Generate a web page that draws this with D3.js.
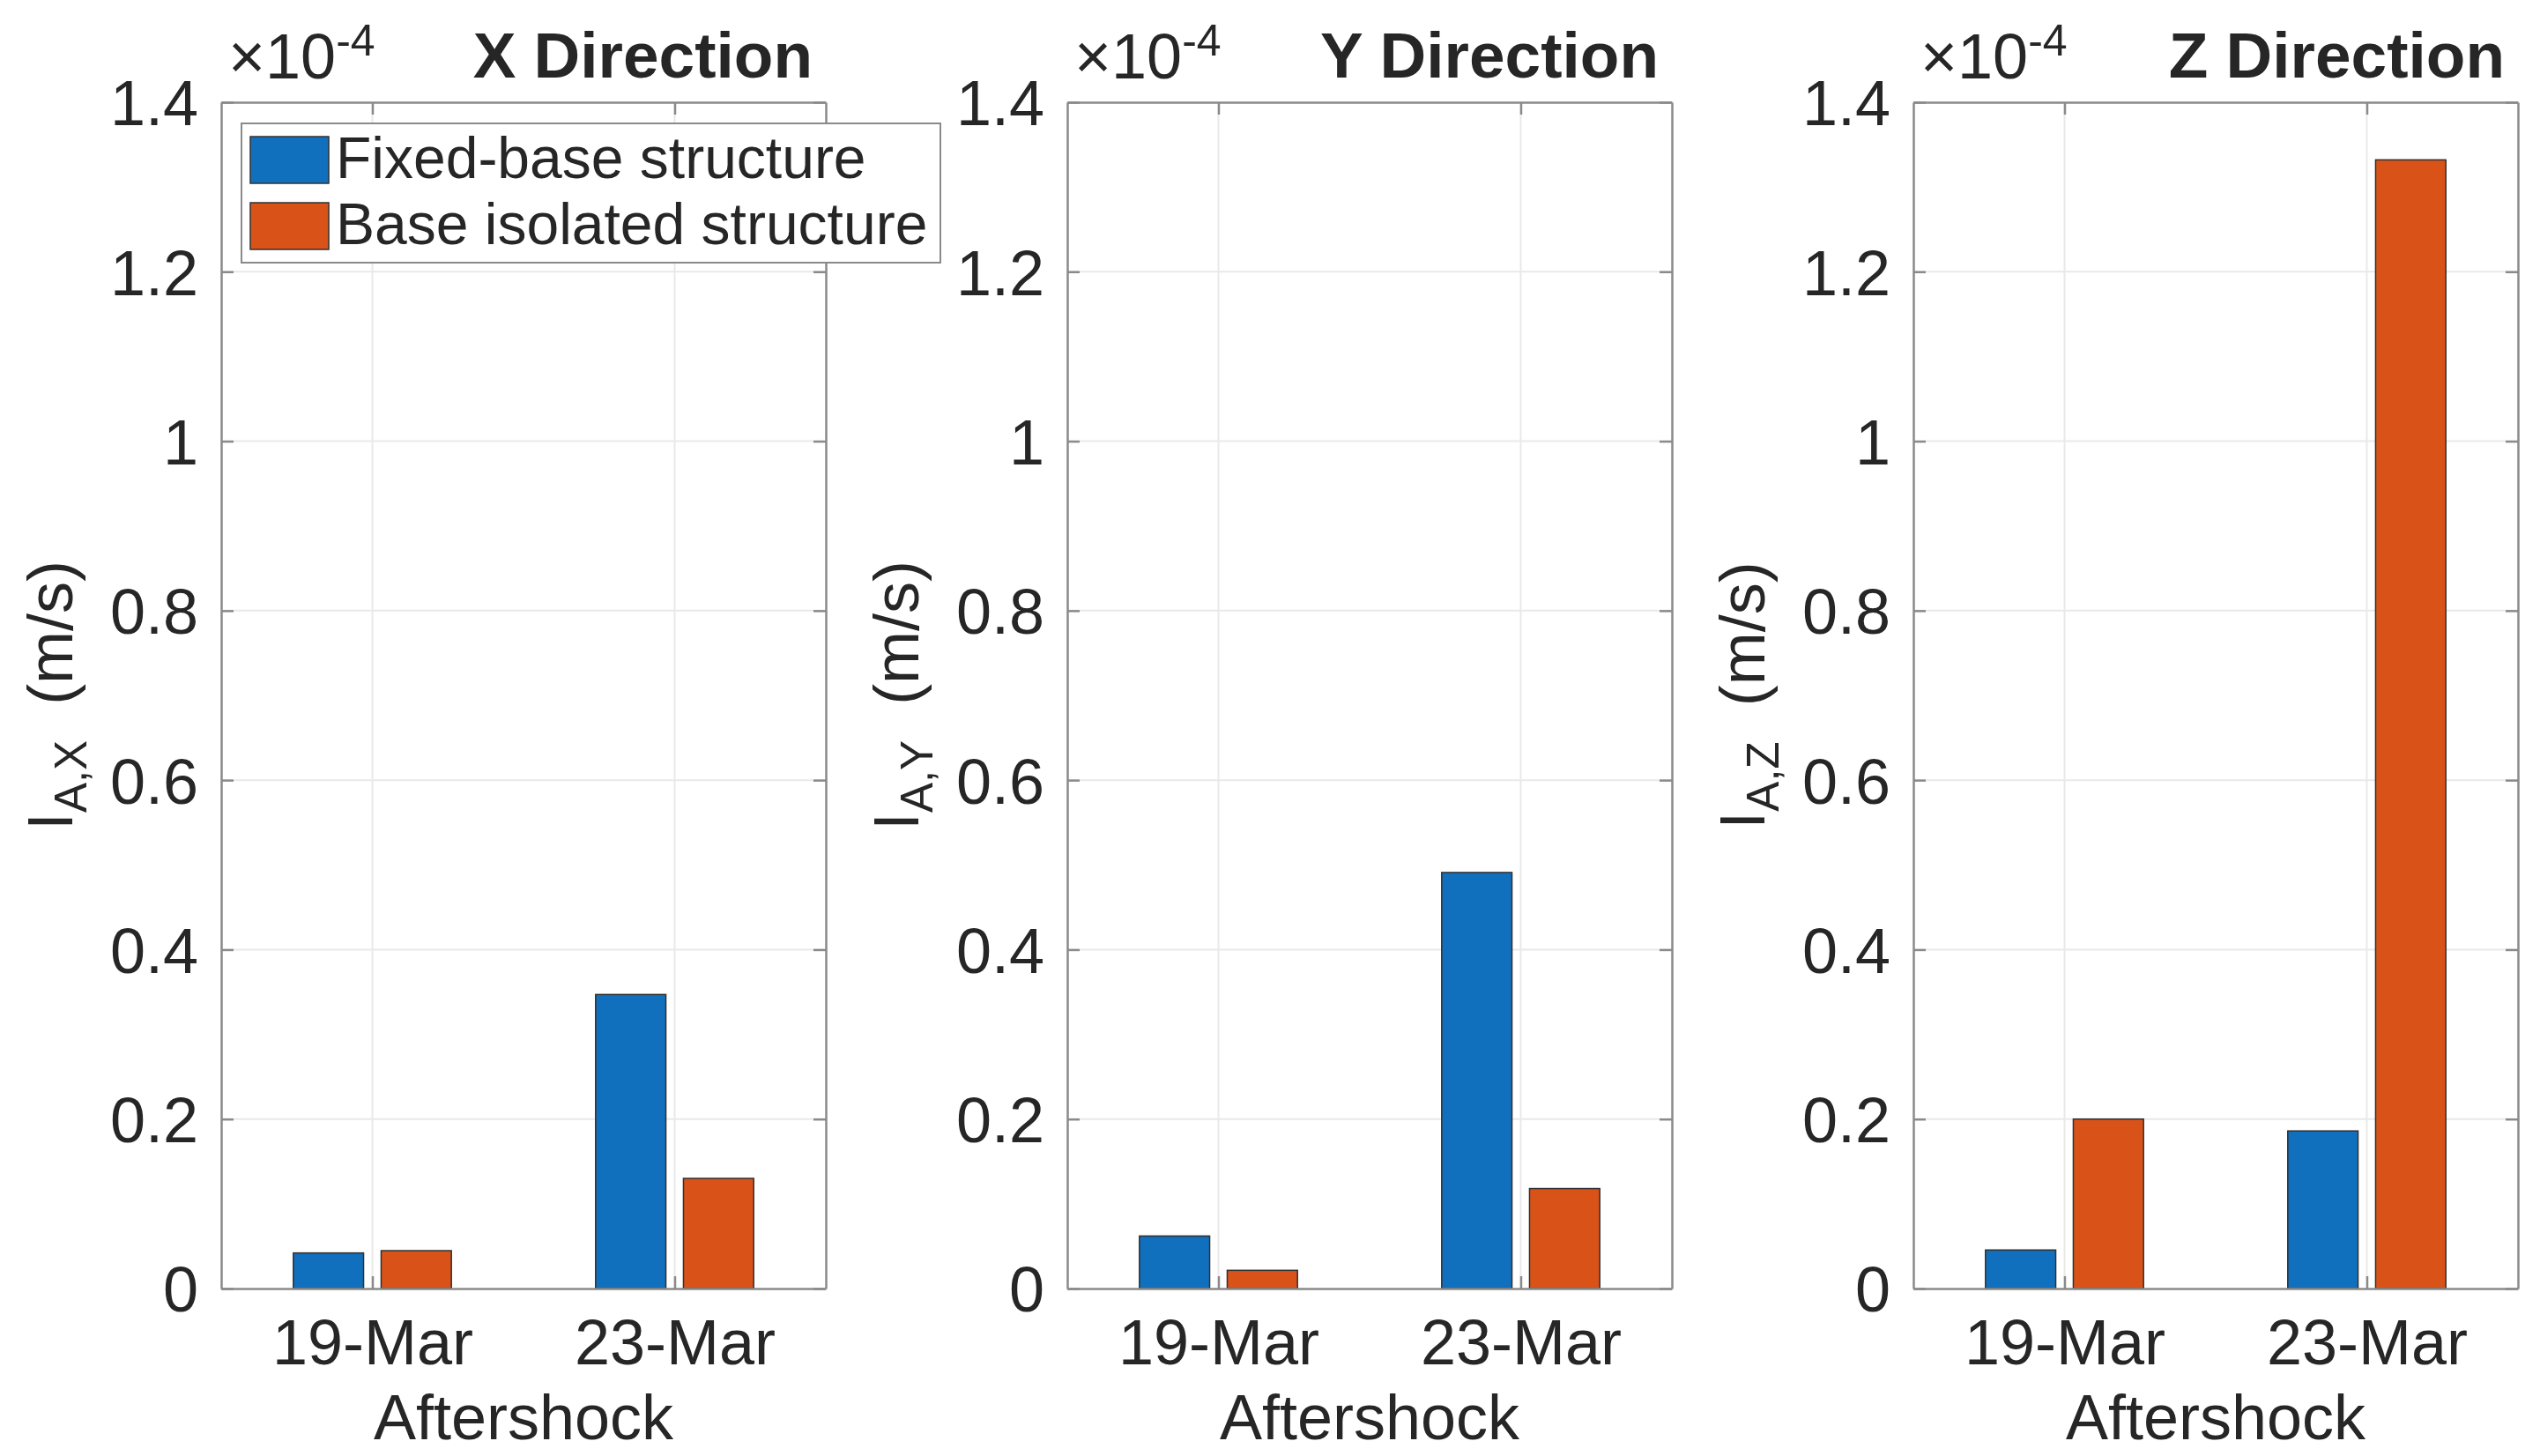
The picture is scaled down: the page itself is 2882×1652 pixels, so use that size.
<!DOCTYPE html>
<html>
<head>
<meta charset="utf-8">
<script src="https://cdn.jsdelivr.net/npm/d3@7"></script>
<style>
  body { margin: 0; background: #fff; }
  svg { display: block; }
  text { font-family: "Liberation Sans", Arial, Helvetica, sans-serif; fill: #262626; }
</style>
</head>
<body>
<svg id="chart"></svg>
<script>
// values are in units of 1e-4 m/s (the axes carry a x10^-4 exponent)
const categories = ["19-Mar", "23-Mar"];
const seriesNames = ["Fixed-base structure", "Base isolated structure"];
const seriesColors = ["#1170BD", "#D95319"];
const panelTitles = ["X Direction", "Y Direction", "Z Direction"];
const panelSubscripts = ["A,X", "A,Y", "A,Z"];
const fixedBase = [[0.042, 0.347], [0.062, 0.491], [0.0455, 0.186]];
const baseIsolated = [[0.0447, 0.130], [0.0215, 0.118], [0.200, 1.332]];
const yTicks = [0, 0.2, 0.4, 0.6, 0.8, 1, 1.2, 1.4];
const xLabel = "Aftershock";

const W = 2882, H = 1652;
const panelLefts = [251, 1211, 2171];
const panelWidth = 686;
const plotTop = 116, plotBottom = 1462;
const tickLen = 14;
const axisColor = "#8a8a8a";
const gridColor = "#e9e9e9";

const svg = d3.select("#chart").attr("width", W).attr("height", H);

const y = d3.scaleLinear().domain([0, 1.4]).range([plotBottom, plotTop]);

panelTitles.forEach(function(title, p) {
  const left = panelLefts[p], right = left + panelWidth;
  const x = d3.scaleLinear().domain([0.5, 2.5]).range([left, right]);
  const unit = x(1) - x(0);
  const inner = d3.scaleBand().domain(seriesNames)
      .range([-0.2615 * unit, 0.2615 * unit]).paddingInner(0.2);
  const g = svg.append("g");

  // grid
  g.append("g").selectAll("line").data(yTicks.slice(1, -1)).enter().append("line")
      .attr("x1", left).attr("x2", right)
      .attr("y1", d => y(d)).attr("y2", d => y(d))
      .style("stroke", gridColor).style("stroke-width", 2);
  g.append("g").selectAll("line").data([1, 2]).enter().append("line")
      .attr("x1", d => x(d)).attr("x2", d => x(d))
      .attr("y1", plotTop).attr("y2", plotBottom)
      .style("stroke", gridColor).style("stroke-width", 2);

  // bars
  const rows = categories.map((c, i) => ({
    pos: i + 1,
    vals: [fixedBase[p][i], baseIsolated[p][i]]
  }));
  const grp = g.append("g").selectAll("g").data(rows).enter().append("g")
      .attr("transform", d => "translate(" + x(d.pos) + ",0)");
  grp.selectAll("rect").data(d => d.vals.map((v, s) => ({v: v, s: s}))).enter()
      .append("rect")
      .attr("x", d => inner(seriesNames[d.s]))
      .attr("width", inner.bandwidth())
      .attr("y", d => y(d.v))
      .attr("height", d => plotBottom - y(d.v))
      .style("fill", d => seriesColors[d.s])
      .style("stroke", "#303030")
      .style("stroke-width", 1.5);

  // axes (ticks point inward, as in the box style)
  const yLeft = d3.axisLeft(y).tickValues(yTicks).tickFormat(d3.format("~g"))
      .tickSizeInner(-tickLen).tickSizeOuter(0).tickPadding(26);
  const yRight = d3.axisRight(y).tickValues(yTicks).tickFormat("")
      .tickSizeInner(-tickLen).tickSizeOuter(0);
  const xBottom = d3.axisBottom(x).tickValues([1, 2]).tickFormat(d => categories[d - 1])
      .tickSizeInner(-tickLen).tickSizeOuter(0).tickPadding(35);
  const xTop = d3.axisTop(x).tickValues([1, 2]).tickFormat("")
      .tickSizeInner(-tickLen).tickSizeOuter(0);

  const axes = [
    g.append("g").attr("transform", "translate(" + left + ",0)").call(yLeft),
    g.append("g").attr("transform", "translate(" + right + ",0)").call(yRight),
    g.append("g").attr("transform", "translate(0," + plotBottom + ")").call(xBottom),
    g.append("g").attr("transform", "translate(0," + plotTop + ")").call(xTop)
  ];
  axes.forEach(function(a) {
    a.attr("font-family", null).attr("font-size", null);
    a.select(".domain").style("stroke", axisColor).style("stroke-width", 2.5);
    a.selectAll(".tick line").style("stroke", axisColor).style("stroke-width", 2.5);
    a.selectAll("text").style("font-size", "72px").style("fill", "#262626");
  });
  axes[0].selectAll("text").attr("dy", "0.36em");

  // exponent
  const ex = g.append("text").attr("x", left + 8).attr("y", 89)
      .style("font-size", "72px");
  ex.append("tspan").text("\u00d710");
  ex.append("tspan").text("-4").style("font-size", "50px").attr("dy", -26);

  // title
  g.append("text").attr("x", right - 15).attr("y", 88)
      .attr("text-anchor", "end")
      .style("font-size", "73px").style("font-weight", "bold")
      .text(title);

  // x label
  g.append("text").attr("x", (left + right) / 2).attr("y", 1633)
      .attr("text-anchor", "middle").style("font-size", "72px")
      .text(xLabel);

  // y label
  const yl = g.append("text")
      .attr("transform", "translate(" + (left - 169) + "," + ((plotTop + plotBottom) / 2) + ") rotate(-90)")
      .attr("text-anchor", "middle").style("font-size", "72px");
  yl.append("tspan").text("I");
  yl.append("tspan").text(panelSubscripts[p]).style("font-size", "51px").attr("dy", 16);
  yl.append("tspan").text("\u00a0\u00a0(m/s)").attr("dy", -16);

  // legend in first panel
  if (p === 0) {
    const lg = g.append("g");
    lg.append("rect").attr("x", 274).attr("y", 140).attr("width", 793).attr("height", 158)
        .style("fill", "#fff").style("stroke", axisColor).style("stroke-width", 2);
    seriesNames.forEach(function(name, s) {
      lg.append("rect").attr("x", 284).attr("y", 155 + s * 75)
          .attr("width", 89).attr("height", 53)
          .style("fill", seriesColors[s]).style("stroke", "#303030").style("stroke-width", 1.5);
      lg.append("text").attr("x", 381).attr("y", 202 + s * 75)
          .style("font-size", "66px").text(name);
    });
  }
});
</script>
</body>
</html>
